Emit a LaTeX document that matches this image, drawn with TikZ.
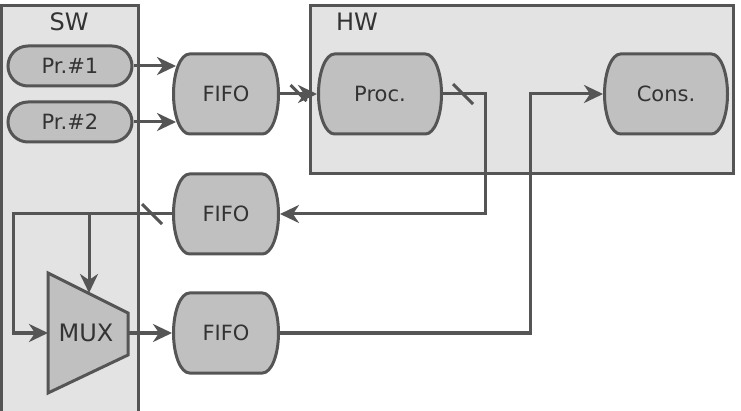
\documentclass[tikz,border=0pt]{standalone}
\usepackage{fontspec}
\setmainfont{DejaVu Sans}
\usetikzlibrary{shapes.misc,arrows.meta,calc}
\definecolor{ln}{HTML}{555555}
\definecolor{nf}{HTML}{C0C0C0}
\definecolor{bf}{HTML}{E3E3E3}
\definecolor{tx}{HTML}{333333}
\tikzset{
  every node/.style={text=tx},
  boxarea/.style={draw=ln, fill=bf, line width=3pt},
  stad/.style={rounded rectangle, draw=ln, fill=nf, line width=3pt, minimum width=124pt, minimum height=40pt, inner sep=0pt, font=\fontsize{21}{25}\selectfont},
  barrel/.style={rectangle, draw=none, inner sep=0pt, outer sep=0pt, minimum width=#1, minimum height=83pt,
    font=\fontsize{21}{25}\selectfont,
    path picture={
      \path[draw=ln, fill=nf, line width=3pt]
        let \p1=(path picture bounding box.south west), \p2=(path picture bounding box.north east) in
        (\x1+17.5pt,\y2-1.5pt) -- (\x2-17.5pt,\y2-1.5pt)
        arc[start angle=90, end angle=-90, x radius=16pt, y radius=40pt]
        -- (\x1+17.5pt,\y1+1.5pt)
        arc[start angle=270, end angle=90, x radius=16pt, y radius=40pt] -- cycle;
    }},
  lbl/.style={font=\fontsize{24}{28}\selectfont, inner sep=0pt},
  conn/.style={draw=ln, line width=3pt},
  arr/.style={conn, -{Stealth[length=19pt,width=18pt,inset=6pt]}},
  tick/.style={draw=ln, line width=3pt}
}
\begin{document}
\begin{tikzpicture}[x=1pt,y=-1pt]
\useasboundingbox (0,0) rectangle (741,411);
\clip (0,0) rectangle (741,411);
% containers
\draw[boxarea] (1,6) rectangle (138,430);
\draw[boxarea] (310,6) rectangle (733,174);
\node[lbl] (swl) at (69,22) {SW};
\node[lbl] (hwl) at (357,22) {HW};
% nodes
\node[stad] (pr1) at (70,66) {Pr.\#1};
\node[stad] (pr2) at (70,122) {Pr.\#2};
\node[barrel=108pt] (fifo1) at (226,94) {FIFO};
\node[barrel=108pt] (fifo2) at (226,214) {FIFO};
\node[barrel=108pt] (fifo3) at (226,333) {FIFO};
\node[barrel=126pt] (proc) at (380,94) {Proc.};
\node[barrel=126pt] (cons) at (666,94) {Cons.};
% MUX
\coordinate (m1) at (48,273);
\coordinate (m2) at (128,313);
\coordinate (m3) at (128,355);
\coordinate (m4) at (48,393);
\draw[draw=ln, fill=nf, line width=3pt, line join=miter] (m1) -- (m2) -- (m3) -- (m4) -- cycle;
\node[lbl] (mux) at (86,333) {MUX};
\coordinate (muxin) at (48,333);
\coordinate (muxout) at (128,333);
\coordinate (muxtop) at (89,293);
% connectors
\draw[arr] (pr1.east) -- ($(pr1.east -| fifo1.west)+(4,0)$);
\draw[arr] (pr2.east) -- ($(pr2.east -| fifo1.west)+(4,0)$);
\draw[arr] (fifo1.east) -- (proc.west);
\draw[tick] ($(fifo1.east)!0.5!(proc.west)+(-8,-9)$) -- ++(16,16);
\draw[arr] (proc.east) -- ++(42,0) |- (fifo2.east);
\draw[tick] ($(proc.east)+(10,-10)$) -- ++(20,20);
\draw[arr] (fifo3.east) -- ++(250,0) |- (cons.west);
\draw[arr] (fifo2.west) -- ++(-159,0) |- (muxin);
\draw[tick] ($(fifo2.west)+(-30,-10)$) -- ++(20,20);
\draw[arr] (fifo2.west -| muxtop) -- (muxtop);
\draw[arr] (muxout) -- (fifo3.west);
\end{tikzpicture}
\end{document}
